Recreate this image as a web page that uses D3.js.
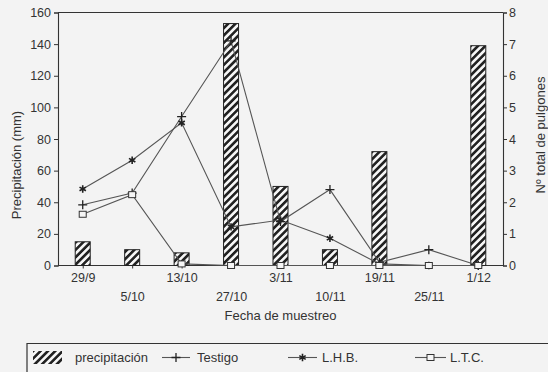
<!DOCTYPE html>
<html>
<head>
<meta charset="utf-8">
<script src="https://cdn.jsdelivr.net/npm/d3@7"></script>
<style>
  body { margin: 0; background: #f3f3f3; }
  svg { display: block; }
  text { font-family: "Liberation Sans", Arial, sans-serif; fill: #333; }
</style>
</head>
<body>
<div id="chart"></div>
<script>
// data
var fechas = ["29/9", "5/10", "13/10", "27/10", "3/11", "10/11", "19/11", "25/11", "1/12"];
var precipitacion = [15, 10, 8, 153, 50, 10, 72, 0, 139];
var testigo = [1.92, 2.29, 4.71, 7.1, 1.39, 2.4, 0.1, 0.5, 0];
var lhb = [2.42, 3.33, 4.51, 1.22, 1.44, 0.86, 0.05, 0, 0];
var ltc = [1.62, 2.24, 0.05, 0, 0, 0, 0, 0, 0];
var precTicks = [0, 20, 40, 60, 80, 100, 120, 140, 160];
var pulgTicks = [0, 1, 2, 3, 4, 5, 6, 7, 8];

var W = 548, H = 372;
// plot box (note: "top" is a reserved window name, so use pTop)
var pLeft = 58, pRight = 503, pTop = 12.5, pBottom = 265.5;
var ink = "#333", lineCol = "#555";

var svg = d3.select("#chart").append("svg")
  .attr("width", W)
  .attr("height", H);

// hatch for the bars
var defs = svg.append("defs");
defs.append("pattern")
  .attr("id", "hatch")
  .attr("patternUnits", "userSpaceOnUse")
  .attr("width", 5.2).attr("height", 5.2)
  .attr("patternTransform", "rotate(45)")
  .call(p => {
    p.append("rect").attr("width", 5.2).attr("height", 5.2).attr("fill", "#f6f6f6");
    p.append("rect").attr("width", 2.6).attr("height", 5.2).attr("fill", "#222");
  });

var x = d3.scalePoint().domain(fechas).range([pLeft, pRight]).padding(0.5);
var yL = d3.scaleLinear().domain([0, 160]).range([pBottom, pTop]);
var yR = d3.scaleLinear().domain([0, 8]).range([pBottom, pTop]);

// frame top line
svg.append("line")
  .attr("x1", pLeft).attr("x2", pRight)
  .attr("y1", pTop).attr("y2", pTop)
  .attr("stroke", ink).attr("stroke-width", 1);

// left axis
var axL = svg.append("g")
  .attr("transform", "translate(" + pLeft + ",0)")
  .call(d3.axisLeft(yL).tickValues(precTicks).tickSize(4).tickPadding(3));
// right axis
var axR = svg.append("g")
  .attr("transform", "translate(" + pRight + ",0)")
  .call(d3.axisRight(yR).tickValues(pulgTicks).tickSize(4).tickPadding(2));
// bottom axis
var axB = svg.append("g")
  .attr("transform", "translate(0," + pBottom + ")")
  .call(d3.axisBottom(x).tickSize(3).tickPadding(5));

[axL, axR, axB].forEach(g => {
  g.select(".domain").attr("stroke", ink).attr("stroke-width", 1.1);
  g.selectAll(".tick line").attr("stroke", ink);
  g.selectAll("text").style("font-size", "12.5px").attr("fill", ink);
});
axB.select(".domain").attr("d", "M" + pLeft + ",0H" + pRight);
// staggered date labels
axB.selectAll(".tick text")
  .attr("dy", (d, i) => i % 2 ? "2.2em" : "0.71em");

// bars
var bw = 15;
svg.append("g").selectAll("rect")
  .data(precipitacion)
  .enter().append("rect")
  .attr("x", (d, i) => x(fechas[i]) - bw / 2)
  .attr("y", d => yL(d))
  .attr("width", bw)
  .attr("height", d => pBottom - yL(d))
  .attr("fill", "url(#hatch)")
  .attr("stroke", d => d > 0 ? "#222" : "none")
  .attr("stroke-width", 1);

// lines
var line = d3.line()
  .x((d, i) => x(fechas[i]))
  .y(d => yR(d));

var series = [
  {name: "Testigo", values: testigo, marker: "plus"},
  {name: "L.H.B.", values: lhb, marker: "star"},
  {name: "L.T.C.", values: ltc, marker: "square"}
];

function drawMarker(g, type, cx, cy) {
  if (type === "plus") {
    g.append("path")
      .attr("d", "M" + (cx - 4.5) + "," + cy + "h9M" + cx + "," + (cy - 4.5) + "v9")
      .attr("stroke", "#222").attr("stroke-width", 1.3);
  } else if (type === "star") {
    g.append("path")
      .attr("d", d3.symbol().type(d3.symbolAsterisk || d3.symbolCross).size(38)())
      .attr("transform", "translate(" + cx + "," + cy + ")")
      .attr("fill", "none")
      .attr("stroke", "#222").attr("stroke-width", 1.6);
  } else {
    g.append("rect")
      .attr("x", cx - 3.5).attr("y", cy - 3)
      .attr("width", 7).attr("height", 6)
      .attr("fill", "#f6f6f6")
      .attr("stroke", "#333").attr("stroke-width", 1);
  }
}

series.forEach(s => {
  svg.append("path")
    .datum(s.values)
    .attr("d", line)
    .attr("fill", "none")
    .attr("stroke", lineCol)
    .attr("stroke-width", 1.1);
});
series.forEach(s => {
  var g = svg.append("g");
  s.values.forEach((v, i) => drawMarker(g, s.marker, x(fechas[i]), yR(v)));
});

// axis titles
svg.append("text")
  .attr("transform", "translate(21," + ((pTop + pBottom) / 2 + 26) + ") rotate(-90)")
  .attr("text-anchor", "middle")
  .style("font-size", "13px")
  .text("Precipitación (mm)");

svg.append("text")
  .attr("transform", "translate(545," + ((pTop + pBottom) / 2 - 4) + ") rotate(-90)")
  .attr("text-anchor", "middle")
  .style("font-size", "13px")
  .text("Nº total de pulgones");

svg.append("text")
  .attr("x", (pLeft + pRight) / 2)
  .attr("y", 320)
  .attr("text-anchor", "middle")
  .style("font-size", "13px")
  .text("Fecha de muestreo");

// legend
var leg = svg.append("g");
leg.append("path")
  .attr("d", "M27,380V343.5H548")
  .attr("fill", "none")
  .attr("stroke", ink).attr("stroke-width", 1.2);

leg.append("rect")
  .attr("x", 33).attr("y", 351)
  .attr("width", 29).attr("height", 13)
  .attr("fill", "url(#hatch)");
leg.append("text").attr("x", 75).attr("y", 362).style("font-size", "13px").text("precipitación");

var legItems = [
  {marker: "plus", x1: 162, x2: 190, tx: 197, label: "Testigo"},
  {marker: "star", x1: 288, x2: 317, tx: 322, label: "L.H.B."},
  {marker: "square", x1: 415, x2: 446, tx: 450, label: "L.T.C."}
];
legItems.forEach(it => {
  var cy = 357.5;
  leg.append("line")
    .attr("x1", it.x1).attr("x2", it.x2)
    .attr("y1", cy).attr("y2", cy)
    .attr("stroke", lineCol).attr("stroke-width", 1.1);
  drawMarker(leg, it.marker, (it.x1 + it.x2) / 2, cy);
  leg.append("text").attr("x", it.tx).attr("y", 362).style("font-size", "13px").text(it.label);
});
</script>
</body>
</html>
